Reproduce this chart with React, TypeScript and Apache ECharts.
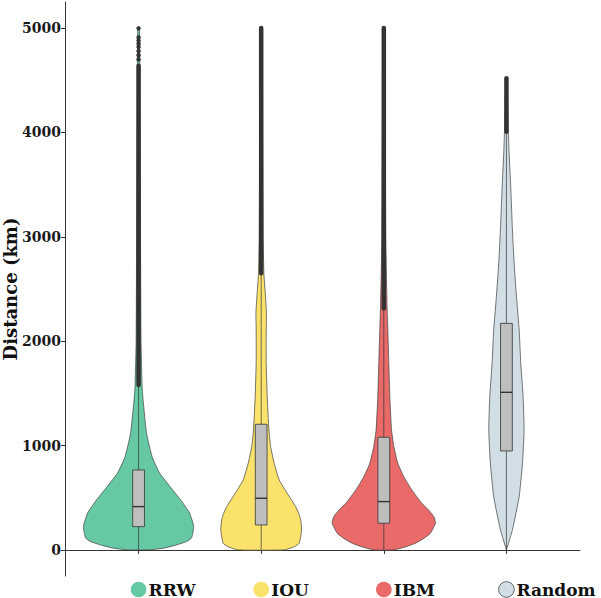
import React, { useEffect, useRef } from "react";
import * as echarts from "echarts";

// ---- data ----
const categories = ["RRW", "IOU", "IBM", "Random"];

// violin outlines: [distance (km), half width (x-axis units)]
const rrwViolin = [
  [0, 0.073], [16, 0.204], [48, 0.31], [80, 0.392], [115, 0.432], [223, 0.45],
  [353, 0.416], [479, 0.343], [606, 0.257], [737, 0.171], [894, 0.11], [1118, 0.065],
  [1437, 0.037], [1560, 0.029], [2000, 0.02], [3000, 0.016], [4000, 0.012], [5000, 0.007],
];
const iouViolin = [
  [0, 0.188], [30, 0.269], [64, 0.31], [192, 0.33], [287, 0.322], [350, 0.306],
  [415, 0.281], [543, 0.212], [670, 0.147], [830, 0.106], [990, 0.077], [1149, 0.063],
  [1468, 0.049], [1788, 0.041], [2107, 0.041], [2267, 0.043], [2426, 0.035], [2650, 0.022],
  [3000, 0.016], [4000, 0.012], [5000, 0.008],
];
const ibmViolin = [
  [0, 0.082], [30, 0.179], [64, 0.258], [110, 0.326], [160, 0.38], [256, 0.421],
  [319, 0.408], [380, 0.367], [447, 0.31], [575, 0.228], [702, 0.163], [830, 0.114],
  [990, 0.082], [1149, 0.063], [1468, 0.049], [1788, 0.041], [2107, 0.033], [2315, 0.027],
  [3000, 0.016], [4000, 0.012], [5000, 0.008],
];
const randomViolin = [
  [0, 0], [192, 0.049], [511, 0.104], [830, 0.131], [1149, 0.144], [1468, 0.136],
  [1788, 0.117], [2107, 0.104], [2426, 0.082], [2746, 0.063], [3065, 0.049], [3480, 0.035],
  [3800, 0.022], [4007, 0.016], [4300, 0.01], [4520, 0.004],
];
const violins = [rrwViolin, iouViolin, ibmViolin, randomViolin];

// [lower whisker, Q1, median, Q3, upper whisker]
const boxStats = [
  [0, 223, 415, 766, 1580],
  [0, 239, 495, 1204, 2652],
  [0, 256, 463, 1079, 2315],
  [0, 948, 1510, 2171, 4006],
];
// dense outlier runs [from, to]
const outlierRanges = [
  [1580, 4640],
  [2652, 5000],
  [2315, 5000],
  [4006, 4520],
];
// isolated outliers (RRW)
const rrwSparseOutliers = [4700, 4740, 4780, 4820, 4850, 4880, 4910, 4998];
const sparseOutliers = [rrwSparseOutliers, [], [], []];

const yTicks = [0, 1000, 2000, 3000, 4000, 5000];
const yTitle = "Distance (km)";

// ---- styles ----
const fillColors = ["#66C9A4", "#FBE36B", "#EA6A6A", "#D1DEE5"];
const legendStroke = ["none", "none", "none", "#444444"];
const X_MIN = 0.4;
const X_MAX = 4.6;
const Y_MIN = -250;
const Y_MAX = 5250;
const BOX_HALF = 0.048;
const FONT = "'DejaVu Serif', serif";

export default function App() {
  const ref = useRef<HTMLDivElement>(null);

  useEffect(() => {
    if (!ref.current) return;
    const chart = echarts.init(ref.current, null, { renderer: "svg" });
    const seriesData = categories.map((_, i) => [i + 1, 0]);

    chart.setOption({
      animation: false,
      backgroundColor: "#ffffff",
      grid: { left: 65, right: 21, top: 2, bottom: 22, containLabel: false, outerBoundsMode: "none" },
      graphic: [
        {
          type: "text",
          x: 10,
          y: 289,
          rotation: Math.PI / 2,
          style: {
            text: yTitle,
            align: "center",
            verticalAlign: "middle",
            fontFamily: FONT,
            fontWeight: "bold",
            fontSize: 18,
            fill: "#111111",
          },
        },
      ],
      xAxis: {
        type: "value",
        min: X_MIN,
        max: X_MAX,
        axisLine: { show: true, lineStyle: { color: "#333333", width: 1 } },
        axisTick: { show: true, customValues: [1, 2, 3, 4], length: 4, lineStyle: { color: "#333333" } },
        axisLabel: { show: false },
        splitLine: { show: false },
      },
      yAxis: {
        type: "value",
        min: Y_MIN,
        max: Y_MAX,
        axisLine: { show: true, lineStyle: { color: "#333333", width: 1 } },
        axisTick: { show: true, customValues: yTicks, length: 4, lineStyle: { color: "#333333" } },
        axisLabel: {
          customValues: yTicks,
          formatter: (v: number) => String(v),
          margin: 4,
          fontFamily: FONT,
          fontWeight: "bold",
          fontSize: 14,
          color: "#1a1a1a",
        },
        splitLine: { show: false },
      },
      series: [
        {
          type: "custom",
          name: "violin",
          data: seriesData,
          z: 2,
          renderItem: (params: any, api: any) => {
            const i = params.dataIndex;
            const cx = i + 1;
            const prof = violins[i];
            const pts: number[][] = [];
            for (const [v, w] of prof) pts.push(api.coord([cx + w, v]));
            for (let k = prof.length - 1; k >= 0; k--) pts.push(api.coord([cx - prof[k][1], prof[k][0]]));
            return {
              type: "polygon",
              shape: { points: pts, smooth: 0.15 },
              style: { fill: fillColors[i], stroke: "#3d3d3d", lineWidth: 0.7 },
            };
          },
        },
        {
          type: "custom",
          name: "box",
          data: seriesData,
          z: 3,
          renderItem: (params: any, api: any) => {
            const i = params.dataIndex;
            const cx = i + 1;
            const [lw, q1, med, q3, uw] = boxStats[i];
            const c = (x: number, y: number) => api.coord([x, y]);
            const children: any[] = [];
            const pLw = c(cx, lw), pQ1 = c(cx, q1), pQ3 = c(cx, q3), pUw = c(cx, uw);
            children.push({ type: "line", shape: { x1: pLw[0], y1: pLw[1], x2: pQ1[0], y2: pQ1[1] }, style: { stroke: "#333333", lineWidth: 0.7 } });
            children.push({ type: "line", shape: { x1: pQ3[0], y1: pQ3[1], x2: pUw[0], y2: pUw[1] }, style: { stroke: "#333333", lineWidth: 0.7 } });
            const [of, ot] = outlierRanges[i];
            const pOf = c(cx, of), pOt = c(cx, ot);
            children.push({ type: "line", shape: { x1: pOf[0], y1: pOf[1], x2: pOt[0], y2: pOt[1] }, style: { stroke: "#333333", lineWidth: 4.5, lineCap: "round" } });
            for (const v of sparseOutliers[i]) {
              const p = c(cx, v);
              children.push({ type: "circle", shape: { cx: p[0], cy: p[1], r: 2.2 }, style: { fill: "#333333" } });
            }
            const tl = c(cx - BOX_HALF, q3);
            const br = c(cx + BOX_HALF, q1);
            children.push({ type: "rect", shape: { x: tl[0], y: tl[1], width: br[0] - tl[0], height: br[1] - tl[1] }, style: { fill: "#BEBEBE", stroke: "#333333", lineWidth: 0.8 } });
            const ml = c(cx - BOX_HALF, med), mr = c(cx + BOX_HALF, med);
            children.push({ type: "line", shape: { x1: ml[0], y1: ml[1], x2: mr[0], y2: mr[1] }, style: { stroke: "#333333", lineWidth: 1.4 } });
            return { type: "group", children };
          },
        },
        {
          type: "custom",
          name: "legend",
          data: seriesData,
          z: 4,
          clip: false,
          renderItem: (params: any, api: any) => {
            const i = params.dataIndex;
            const p = api.coord([i + 1, Y_MIN]);
            const cy = p[1] + 13.5;
            return {
              type: "group",
              children: [
                { type: "circle", shape: { cx: p[0], cy, r: 7.8 }, style: { fill: fillColors[i], stroke: legendStroke[i], lineWidth: 0.8 } },
                {
                  type: "text",
                  style: {
                    text: categories[i],
                    x: p[0] + 10,
                    y: cy,
                    verticalAlign: "middle",
                    align: "left",
                    fontFamily: FONT,
                    fontWeight: "bold",
                    fontSize: 17,
                    fill: "#111111",
                  },
                },
              ],
            };
          },
        },
      ],
    });
    return () => chart.dispose();
  }, []);

  return <div ref={ref} style={{ position: "fixed", left: 0, top: 0, width: 601, height: 598 }} />;
}
